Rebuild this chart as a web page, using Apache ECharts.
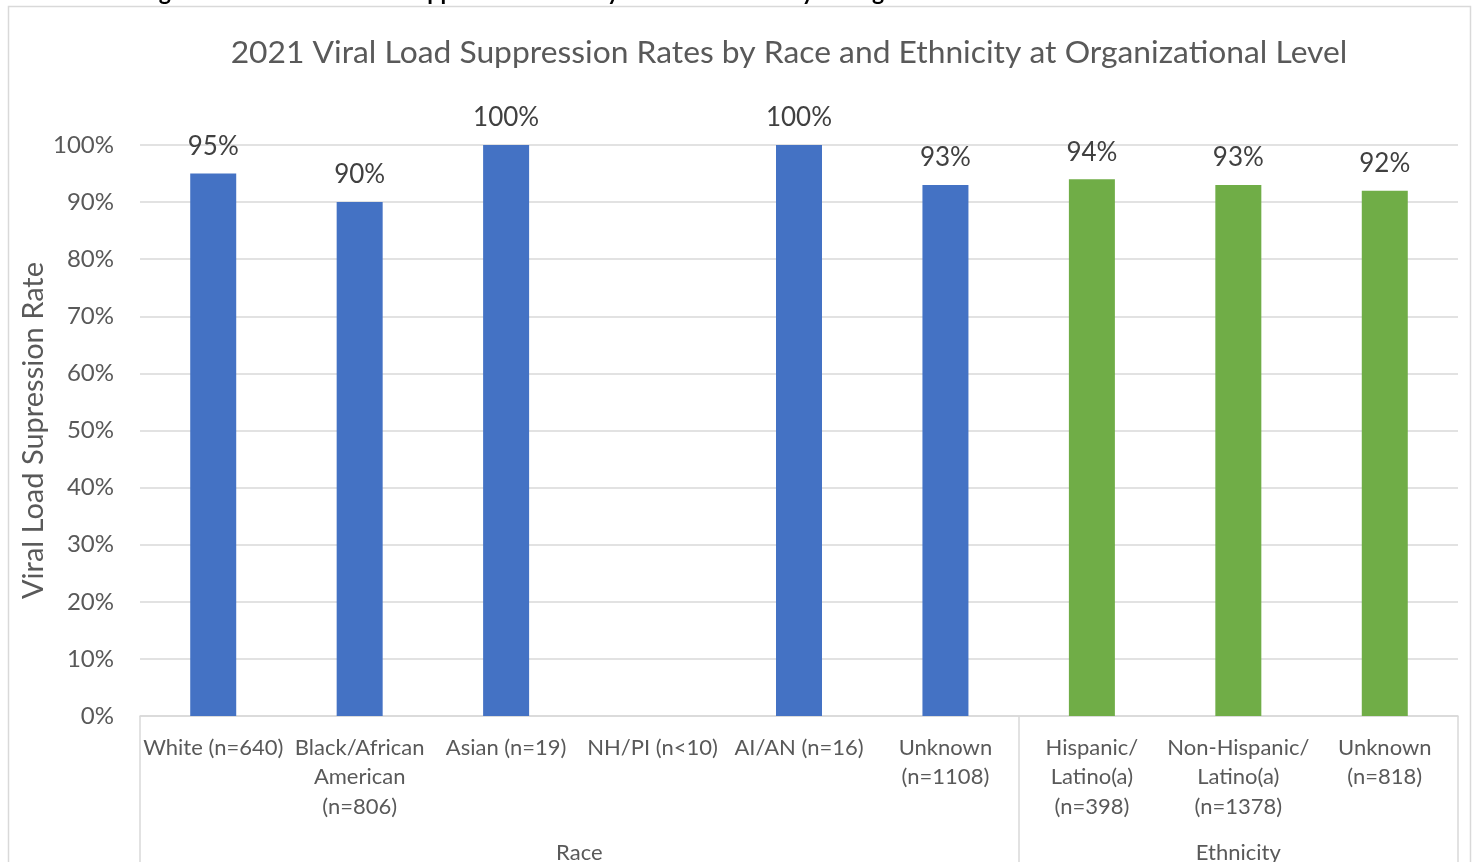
<!DOCTYPE html>
<html>
<head>
<meta charset="utf-8">
<script src="https://cdn.jsdelivr.net/npm/echarts@6/dist/echarts.min.js"></script>
<style>
  html, body { margin: 0; padding: 0; background: #fff; }
  #chart { width: 1477px; height: 862px; }
</style>
</head>
<body>
<div id="chart"></div>
<script>
// categories and values
const categories = [
  'White (n=640)', 'Black/African\nAmerican\n(n=806)', 'Asian (n=19)', 'NH/PI (n<10)',
  'AI/AN (n=16)', 'Unknown\n(n=1108)', 'Hispanic/\nLatino(a)\n(n=398)',
  'Non-Hispanic/\nLatino(a)\n(n=1378)', 'Unknown\n(n=818)'
];
const rates = [95, 90, 100, null, 100, 93, 94, 93, 92];
const groups = ['Race', 'Ethnicity'];
const groupSizes = [6, 3];

const raceColor = '#4472C4';
const ethnicityColor = '#70AD47';

// group boundaries and centres, in category units
const groupStarts = [];
const groupCentres = {};
let acc = 0;
groups.forEach((g, i) => {
  groupStarts.push(acc);
  groupCentres[acc + groupSizes[i] / 2] = g;
  acc += groupSizes[i];
});

const barData = rates.map((v, i) => ({
  value: v,
  itemStyle: { color: i < groupSizes[0] ? raceColor : ethnicityColor }
}));

const font = 'Lato, "Open Sans", sans-serif';
const chart = echarts.init(document.getElementById('chart'));

chart.setOption({
  animation: false,
  textStyle: { fontFamily: font },
  title: {
    text: '2021 Viral Load Suppression Rates by Race and Ethnicity at Organizational Level',
    left: 784,
    top: 32,
    textAlign: 'center',
    textStyle: { fontSize: 31.8, fontWeight: 'normal', color: '#595959', fontFamily: font }
  },
  graphic: [
    {
      type: 'rect',
      shape: { x: 8.5, y: 6.5, width: 1462, height: 900 },
      style: { fill: 'none', stroke: '#d9d9d9', lineWidth: 1.5 },
      silent: true
    },
    {
      type: 'text',
      x: 140,
      y: 4,
      style: {
        text: 'Figure 5: 2021 Viral Load Suppression Rates by Race and Ethnicity at Organizational Level',
        font: 'bold 23px ' + font,
        fill: '#000',
        verticalAlign: 'bottom'
      },
      silent: true
    }
  ],
  grid: { left: 140, right: 19, top: 145, bottom: 146, outerBoundsMode: 'none' },
  xAxis: [
    {
      type: 'category',
      data: categories,
      axisLine: { lineStyle: { color: '#d9d9d9', width: 1.5 } },
      axisTick: {
        show: true,
        length: 160,
        interval: (idx) => groupStarts.indexOf(idx) !== -1,
        lineStyle: { color: '#d9d9d9', width: 1.5 }
      },
      axisLabel: {
        interval: 0,
        margin: 17,
        fontSize: 22,
        lineHeight: 29.5,
        color: '#595959',
        fontFamily: font
      }
    },
    {
      type: 'value',
      position: 'bottom',
      min: 0,
      max: categories.length,
      interval: 0.5,
      axisLine: { show: false },
      axisTick: { show: false },
      splitLine: { show: false },
      axisLabel: {
        margin: 126,
        fontSize: 22,
        color: '#595959',
        fontFamily: font,
        showMinLabel: true,
        showMaxLabel: true,
        formatter: (v) => groupCentres[v] || ''
      }
    }
  ],
  yAxis: {
    type: 'value',
    min: 0,
    max: 100,
    interval: 10,
    name: 'Viral Load Supression Rate',
    nameLocation: 'middle',
    nameGap: 92,
    nameMoveOverlap: false,
    nameTextStyle: { fontSize: 29, color: '#595959', fontFamily: font },
    axisLine: { show: false },
    axisTick: { show: false },
    axisLabel: {
      formatter: '{value}%',
      margin: 26,
      fontSize: 24,
      color: '#595959',
      fontFamily: font
    },
    splitLine: { lineStyle: { color: '#d9d9d9', width: 1.5 } }
  },
  series: [
    {
      type: 'bar',
      xAxisIndex: 0,
      data: barData,
      barWidth: 46,
      label: {
        show: true,
        position: 'top',
        distance: 14,
        formatter: '{c}%',
        fontSize: 26,
        color: '#404040',
        fontFamily: font
      }
    }
  ]
});
</script>
</body>
</html>
